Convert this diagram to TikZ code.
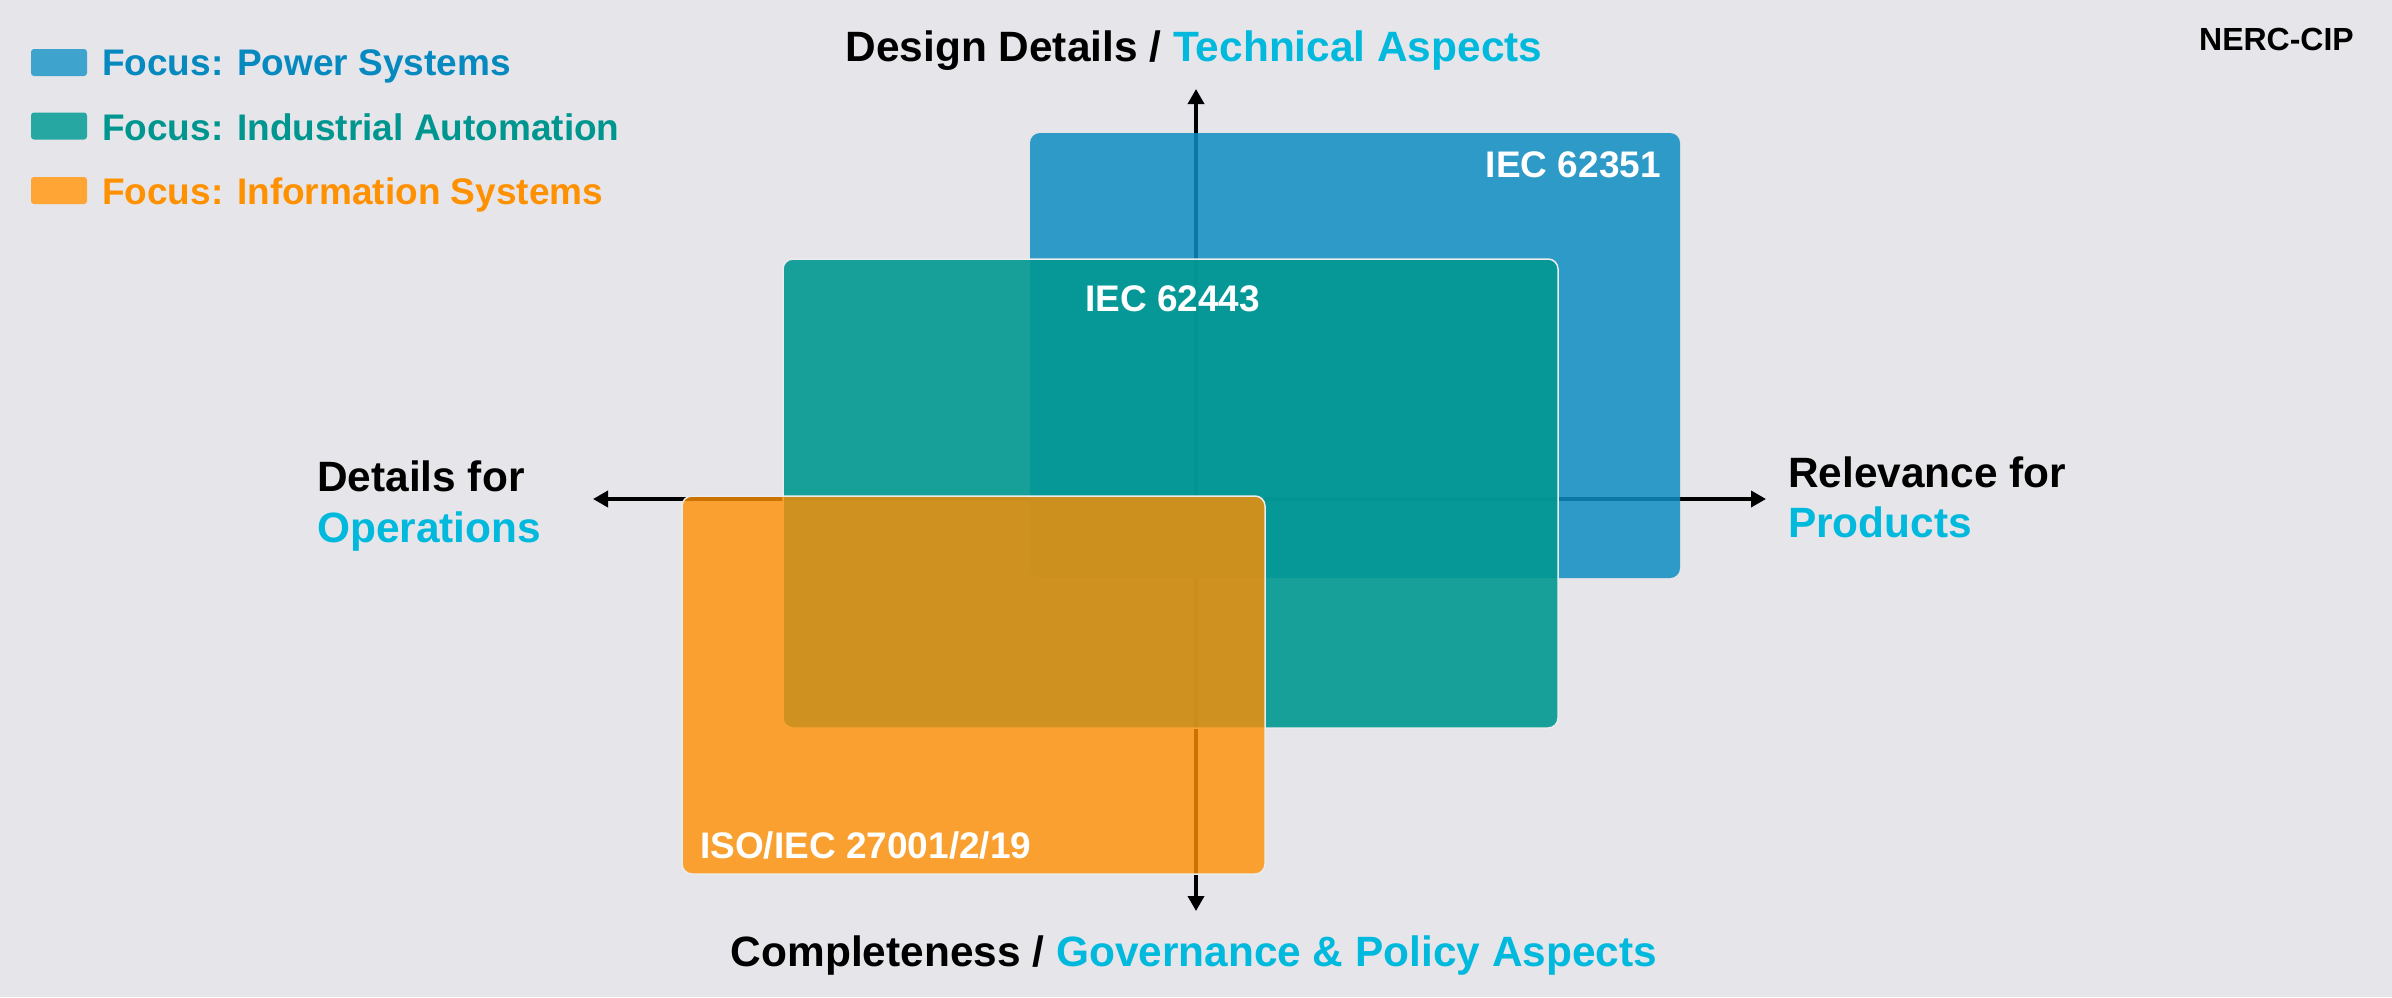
\documentclass[tikz,border=0pt]{standalone}
\usepackage{fontspec}
\setmainfont{Liberation Sans}
\usetikzlibrary{arrows.meta}

\definecolor{bgcol}{HTML}{E5E5EA}
\definecolor{psblue}{HTML}{0E8DC2}
\definecolor{iateal}{HTML}{019892}
\definecolor{isorange}{HTML}{FE8F02}
\definecolor{txtblue}{HTML}{0589BF}
\definecolor{txtteal}{HTML}{009690}
\definecolor{txtorange}{HTML}{FF9100}
\definecolor{txtcyan}{HTML}{00B9DC}

\tikzset{
	area/.style={rounded corners=10pt, inner sep=0pt},
	rim/.style={draw=white!85!gray, line width=1.5pt},
	legbox/.style={rounded corners=3pt, minimum width=56pt, minimum height=27pt, inner sep=0pt},
	legtext/.style={inner sep=0pt, anchor=base west, font=\fontsize{37}{44}\selectfont\bfseries},
	axtext/.style={inner sep=0pt, font=\fontsize{42.4}{51}\selectfont\bfseries},
	boxtext/.style={inner sep=0pt, text=white, font=\fontsize{37}{44}\selectfont\bfseries},
	axis/.style={line width=3.5pt, {Triangle[length=15pt,width=16pt]}-{Triangle[length=15pt,width=16pt]}}
}

\begin{document}
\begin{tikzpicture}[x=1pt,y=-1pt]
	\fill[bgcol] (0,0) rectangle (2392,997);

	% axes
	\coordinate (top) at (1196,89);
	\coordinate (bottom) at (1196,911);
	\coordinate (left) at (593,499);
	\coordinate (right) at (1766,499);
	\draw[axis] (bottom) -- (top);
	\draw[axis] (left) -- (right);

	% the three standards
	\node[area, fill=psblue, fill opacity=0.85, minimum width=650pt, minimum height=445pt] (power) at (1355,355.5) {};
	\node[area, rim, fill=iateal, fill opacity=0.9, minimum width=775pt, minimum height=469pt] (automation) at (1170.5,493.5) {};
	\node[area, rim, fill=isorange, fill opacity=0.8, minimum width=583pt, minimum height=378pt] (infosys) at (973.5,685) {};

	\node[boxtext, anchor=base east] (iec62351) at (1661,177) {IEC 62351};
	\node[boxtext, anchor=base west] (iec62443) at (1085,311) {IEC 62443};
	\node[boxtext, anchor=base west] (iso27001) at (700,858) {ISO/IEC 27001/2/19};

	% axis labels
	\node[axtext, anchor=base] (design) at (1194,61) {Design Details / \textcolor{txtcyan}{Technical Aspects}};
	\node[axtext, anchor=base] (complete) at (1194,966) {Completeness / \textcolor{txtcyan}{Governance \& Policy Aspects}};
	\node[axtext, anchor=base west] (detailsfor) at (317,491) {Details for};
	\node[axtext, anchor=base west, text=txtcyan] (operations) at (317,542) {Operations};
	\node[axtext, anchor=base west] (relevance) at (1788,487) {Relevance for};
	\node[axtext, anchor=base west, text=txtcyan] (products) at (1788,537) {Products};

	% legend
	\node[legbox, fill=psblue!80!white] (legpower) at (59,62.5) {};
	\node[legbox, fill=iateal!85!white] (legauto) at (59,126) {};
	\node[legbox, fill=isorange!80!white] (leginfo) at (59,190.5) {};
	\node[legtext, text=txtblue] (legpowertext) at (102,75) {Focus: Power Systems};
	\node[legtext, text=txtteal] (legautotext) at (102,140) {Focus: Industrial Automation};
	\node[legtext, text=txtorange] (leginfotext) at (102,204) {Focus: Information Systems};

	\node[inner sep=0pt, anchor=base east, font=\fontsize{32}{38}\selectfont\bfseries] (nerc) at (2354,50) {NERC-CIP};
\end{tikzpicture}
\end{document}
